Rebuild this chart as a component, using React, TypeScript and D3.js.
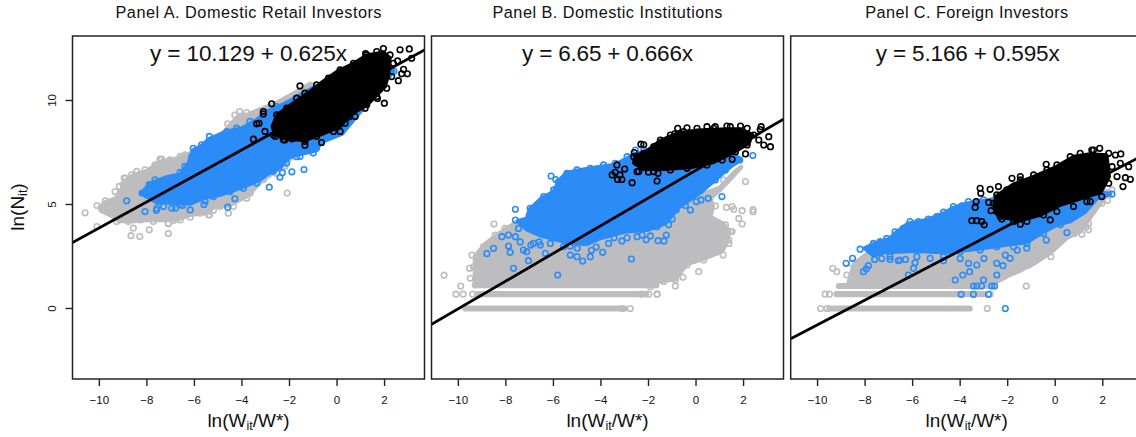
import React from "react";
import * as d3 from "d3";

type P = [number, number];

const xTicks = [-10, -8, -6, -4, -2, 0, 2];
const yTicks = [0, 5, 10];

const retailGrayOutline: P[] = [[-10.0,4.85],[-9.75,5.1],[-9.3,5.3],[-9.0,5.85],[-8.9,6.15],[-8.5,6.45],[-8.0,6.6],[-7.45,7.05],[-6.75,7.2],[-6.2,7.45],[-4.9,8.25],[-4.6,8.7],[-4.1,9.3],[-3.8,9.3],[-3.17,9.6],[-2.5,9.9],[-1.84,10.33],[-1.14,10.8],[-0.5,10.5],[-1.2,8.0],[-2.25,6.9],[-3.2,6.1],[-3.8,5.4],[-4.57,4.95],[-5.2,4.9],[-5.4,4.6],[-6.18,4.5],[-6.8,4.25],[-7.9,4.25],[-8.57,4.2],[-9.16,4.2],[-9.55,4.5],[-9.93,4.7]];
const retailGrayPoints: P[] = [[-10.6,4.6],[-10.1,4.95],[-10.1,3.94],[-7.1,3.6],[-7.9,3.78],[-8.3,3.46],[-8.67,3.5],[-8.57,3.86],[-2.1,5.55],[-4.57,4.58],[-5.2,4.72],[-3.8,5.3],[-3.65,5.55],[-2.25,6.83],[-7.45,7.18],[-7.3,7.05],[-8.9,6.27],[-9.0,5.95],[-9.75,5.18],[-4.6,8.88],[-4.1,9.47],[-3.8,9.42],[-4.3,9.3],[-6.75,4.3],[-7.1,4.1],[-6.9,4.22],[-5.4,4.5],[-9.34,5.62],[-9.16,5.87],[-8.96,6.27],[-8.64,6.43],[-8.43,6.59],[-8.08,6.67],[-7.66,6.91],[-7.38,7.18],[-7.03,7.15],[-6.6,7.31],[-6.4,7.39],[-9.27,4.18],[-8.78,4.18],[-8.29,4.26],[-7.73,4.18],[-7.1,4.07],[-6.6,4.26],[-6.18,4.39],[-5.76,4.58],[-5.37,4.5],[-4.92,4.9],[-4.36,4.9],[-3.94,5.62],[-3.1,6.19],[-2.54,6.5],[-2.19,6.83]];
const retailBlueOutline: P[] = [[-8.2,5.55],[-7.94,5.9],[-7.66,6.1],[-7.17,6.3],[-6.6,6.45],[-6.25,6.95],[-6.05,7.6],[-5.7,7.8],[-5.37,8.15],[-4.85,8.4],[-4.43,8.55],[-4.0,8.65],[-3.38,9.05],[-2.96,9.45],[-2.26,9.8],[-1,10.6],[2.37,11.4],[0.2,8.4],[-0.58,8.05],[-1.0,7.57],[-1.7,7.4],[-2.05,7.25],[-2.4,6.77],[-2.96,6.45],[-3.24,6.2],[-4.08,5.8],[-4.92,5.48],[-5.62,5.32],[-6.18,5.05],[-6.9,5.1],[-7.58,5.1]];
const retailBluePoints: P[] = [[-8.85,5.18],[-8.08,4.66],[-7.58,4.82],[-7.6,4.72],[-6.95,4.82],[-6.8,4.82],[-6.18,4.74],[-6.5,4.95],[-5.6,5.0],[-5.55,5.15],[-2.85,5.83],[-2.4,6.31],[-2.3,6.52],[-1.9,6.57],[-1.39,6.68],[-4.6,4.87],[-4.3,5.27],[-1.0,7.47],[-0.88,7.7],[-1.7,7.3],[-8.2,5.55],[-8.0,5.45],[-7.9,5.95],[-7.66,6.19],[-6.05,7.7],[-5.7,7.87],[-5.37,8.27],[2.4,11.4],[-6.6,6.54],[-6.4,6.83],[-6.11,7.31],[-5.9,7.63],[-5.2,8.1],[-4.64,8.5],[-4.22,8.67],[-3.66,9.0],[-3.1,9.39],[-2.54,9.71],[-7.3,4.9],[-6.6,4.98],[-5.9,5.38],[-5.2,5.38],[-4.5,5.62],[-3.94,5.78],[-3.38,6.03],[-2.68,6.59],[-2.12,6.99],[-1.56,7.31],[-0.86,7.71]];
const retailBlackOutline: P[] = [[-2.7,8.75],[-2.5,9.3],[-1.84,9.85],[-1.14,10.4],[-0.58,10.9],[0,11.37],[0.69,11.75],[1.25,12.15],[1.95,12.3],[2.2,12.03],[2.15,11.31],[2.0,10.67],[1.25,9.8],[0.55,9.33],[0.13,8.77],[-0.72,8.37],[-1.35,8.1],[-2.19,8.2],[-2.6,8.37]];
const retailBlackPoints: P[] = [[-3.52,8.14],[-3.03,8.51],[-3.38,8.88],[-3.28,8.9],[-3.1,9.47],[-3.1,9.35],[-2.75,9.84],[-1.56,10.7],[2.65,12.44],[3.04,12.48],[3.14,12.03],[2.96,11.28],[2.72,11.28],[2.58,10.95],[2.8,11.5],[2.55,11.9],[1.99,9.87],[0.13,8.51],[-0.65,7.98],[-1.35,7.85],[-1.9,8.15],[-2.2,8.1],[-2.6,8.27],[1.25,9.8],[0.5,9.2],[1.7,10.1],[1.2,12.25],[1.95,12.5],[-2.54,9.31],[-2.12,9.63],[-1.7,10.11],[-1.35,10.35],[-0.86,10.75],[-0.36,11.07],[0.13,11.47],[0.69,11.79],[1.25,12.19],[1.67,12.35],[2.23,12.19],[2.37,11.79],[2.3,11.15],[2.09,10.59],[1.67,10.19],[1.18,9.63],[0.76,9.23],[0.34,8.91],[-0.15,8.51],[-0.86,8.27],[-1.35,8.03],[-1.84,8.19],[-2.26,8.11],[-2.68,8.35]];

const institutionGrayOutline: P[] = [[-9.3,1.08],[-9.3,2.0],[-9.3,2.5],[-8.87,3.1],[-8.3,3.6],[-7.54,4.15],[-5,5],[-0.94,5.5],[0.04,5.4],[1.0,5.8],[1.66,6.6],[1.9,6.8],[1.5,6.3],[1,5.7],[0.6,5.3],[0.7,4.9],[0.6,4.4],[1.16,4.06],[1.4,3.7],[1.3,3.2],[1.1,2.75],[0.32,2.4],[-0.38,2.15],[-0.87,1.4],[-1.64,1.29],[-1.64,1.08]];
const institutionGrayPoints: P[] = [[-10.6,1.6],[-9.9,1.08],[-8.5,4.06],[0.11,1.77],[1.14,2.57],[1.38,3.13],[1.94,4.7],[2.4,4.65],[2.4,4.75],[1.16,6.18],[2.08,6.1],[0.81,4.93],[1.28,4.86],[1.59,4.77],[1.52,4.9],[1.94,4.06],[1.8,4.33],[1.45,3.7],[-0.87,1.08],[-1.64,0.69],[-0.38,2.09],[-0.55,1.5],[0.4,5.3],[0.6,4.9],[0.3,4.7],[-9.43,2.57],[-9.36,2.0],[-9.53,1.93],[-9.5,1.45],[-9.29,1.13],[-9.08,2.33],[-8.94,2.97],[-8.45,3.53],[-8.03,3.85],[-1.92,1.05],[-1.36,1.29],[-0.87,1.37],[-0.1,2.33],[0.32,2.33],[0.74,2.97],[1.14,3.13],[1.38,3.29],[1.52,3.7],[1.24,4.02],[0.88,3.85]];
const institutionBlueOutline: P[] = [[-7.5,4.2],[-7.12,4.3],[-7.0,4.75],[-6.48,5.3],[-5.99,5.6],[-5.78,6.1],[-5.46,6.5],[-4.87,6.65],[-4.03,6.8],[-3.4,6.9],[-2.76,7.3],[-2.06,7.6],[-1,8],[1,8],[1.87,7.14],[1.52,6.9],[0.8,6.2],[0.2,5.6],[-0.7,4.9],[-1.3,4.1],[-2,3.8],[-3,3.7],[-4,3.4],[-4.6,3.1],[-5.5,3.2],[-6.5,3.5],[-7.1,3.8]];
const institutionBluePoints: P[] = [[-8.17,3.45],[-7.89,3.53],[-7.89,3],[-7.82,2.7],[-8.52,2.89],[-8.8,2.64],[-7.68,1.93],[-7.6,4.77],[-7.6,4.25],[-7.47,3.85],[-7.26,2.81],[-7.05,2.3],[-7.12,2.73],[-6.84,3.13],[-6.55,3.05],[-6.34,2.65],[-6.13,3.13],[-6.1,6.37],[-5.9,6.2],[-5.82,1.61],[-5.57,2.97],[-5.29,2.57],[-5.01,2.49],[-4.77,2.28],[-4.45,2.49],[-3.93,2.7],[-3.68,3.13],[-3.12,3.25],[-2.72,2.38],[-2.48,3.45],[-2.27,3.53],[-1.92,3.49],[-1.6,3.26],[-1.25,3.53],[-1.15,4.02],[-1.64,3.93],[-0.83,4.74],[-0.59,5.06],[-0.24,4.73],[0.01,5.14],[0.21,5.22],[0.51,5.3],[1.09,5.38],[0.46,6.26],[0.81,6.18],[-0.03,5.7],[-0.31,5.41],[1.84,7.14],[2.39,7.35],[1.24,6.66],[-4.2,2.95],[-7.4,3.2],[-6.6,3.2],[-5.3,3],[-5,2.9],[-6.98,4.82],[-6.41,5.38],[-5.99,5.7],[-5.78,6.1],[-5.43,6.5],[-5.01,6.66],[-4.45,6.74],[-3.89,6.9],[-3.4,6.98],[-2.9,7.3],[-2.55,7.62],[-2.2,7.62],[-3.45,3.4],[-2.9,3.4],[-2.1,3.3],[-1.35,3.25],[-1.0,4.3],[-0.45,4.95],[-4.4,2.8],[-6.95,3.05],[-7.6,3.45]];
const institutionBlackOutline: P[] = [[-2.6,7.0],[-2.55,7.3],[-2.06,7.55],[-1.5,8.05],[-0.8,8.4],[0.04,8.55],[1.3,8.6],[1.87,8.6],[2.35,8.35],[2.2,7.94],[1.45,7.45],[0.74,7.05],[-0.24,6.8],[-1.36,6.72],[-2.2,6.72]];
const institutionBlackPoints: P[] = [[-3.33,6.9],[-3.53,6.42],[-3.2,6.42],[-3.4,6.55],[-3.12,6.2],[-3.3,6.2],[-2.69,6.05],[-1.64,6.13],[-2.32,7.9],[-2.2,7.87],[-0.77,8.66],[-0.38,8.69],[0.46,8.74],[0.81,8.74],[1.3,8.77],[1.87,8.77],[2.74,8.74],[2.7,8.6],[3.13,7.78],[2.85,7.86],[2.64,8.1],[3.06,8.26],[2.08,7.43],[1.52,7.17],[-2.41,6.58],[-2.0,6.55],[-1.6,6.5],[-2.6,7.5],[-0.9,8.4],[-3.0,6.7],[-2.62,7.3],[-2.2,7.46],[-1.78,7.78],[-1.5,8.1],[-1.08,8.34],[-0.52,8.5],[0.04,8.66],[0.74,8.66],[1.44,8.74],[2.15,8.66],[2.43,8.34],[2.15,7.86],[1.66,7.54],[1.1,7.14],[0.46,6.9],[-0.38,6.74],[-1.08,6.66],[-1.78,6.58],[-2.48,6.58]];

const foreignGrayOutline: P[] = [[-8.7,1.2],[-8.6,1.61],[-8.45,2.17],[-7.93,2.6],[-6,3.5],[-3,5],[0,6],[2.3,5.6],[1.9,5.06],[1.35,4.2],[1.05,3.7],[0.49,3.4],[-0.18,2.7],[-0.84,2.2],[-1.4,1.87],[-2.04,1.55],[-2.6,1.2]];
const foreignGrayPoints: P[] = [[-9.36,1.93],[-9.19,1.77],[-1.22,1.08],[-0.18,2.49],[1.12,3.57],[1.3,3.9],[1.4,4.1],[1.96,5.06],[2.2,5.2],[-0.6,2.5],[-1.5,1.9],[-0.9,3],[0.8,3.6],[2.39,5.7],[-8.77,1.61],[-8.56,2.17],[1.61,4.74],[1.26,4.1],[1.4,3.78],[0.63,3.61],[0.28,3.45],[-0.18,2.97],[-0.49,2.89],[-0.91,2.49],[-1.12,2.09],[-1.75,1.77],[-2.18,1.53]];
const foreignBlueOutline: P[] = [[-8.0,2.9],[-7.72,3.05],[-7.37,3.2],[-6.95,3.35],[-6.74,3.6],[-6.18,4.08],[-5.4,4.24],[-4.7,4.56],[-4.28,4.83],[-3.72,5.04],[-2.74,5.2],[-1,6],[2.3,5.5],[1.75,5.3],[1.26,4.66],[0.63,4.2],[0.07,4.03],[-0.49,3.7],[-1.19,3.2],[-2.04,3.07],[-3.16,2.9],[-4.56,2.7],[-5.96,2.77],[-7.23,2.7],[-7.65,2.56]];
const foreignBluePoints: P[] = [[-8.53,2.41],[-8.8,2.17],[-8.21,2.85],[-8.07,1.77],[-7.95,1.9],[-7.86,2.06],[-7.6,2.36],[-7.3,2.4],[-6.95,2.36],[-6.6,2.3],[-6.3,2.36],[-5.9,2.2],[-5.96,1.93],[-6.18,1.61],[-4.21,1.37],[-3.89,1.61],[-3.6,1.77],[-3.3,2.09],[-3.65,2.17],[-3.96,0.68],[-3.44,0.68],[-2.81,0.68],[-3.44,1.08],[-3.3,1.08],[-3.02,1.37],[-3.1,1.08],[-2.67,1.08],[-2.55,1.08],[-2.46,1.61],[-2.46,2.17],[-2.2,2.06],[-2.1,2.57],[-1.9,2.41],[-0.38,3.29],[0.49,3.65],[-2.1,0],[-4.7,2.3],[-4.0,2.4],[-3.0,2.4],[-1.6,2.8],[-1.2,2.9],[2.39,5.5],[-7.65,3.13],[-7.37,3.21],[-7.09,3.37],[-6.74,3.69],[-6.39,3.85],[-6.11,4.18],[-5.76,4.18],[-5.34,4.3],[-4.99,4.42],[-4.7,4.63],[-4.28,4.9],[-3.93,4.93],[-3.65,5.14],[-3.3,5.14],[-3.02,5.22],[-6.95,2.49],[-6.53,2.33],[-5.82,2.49],[-5.26,2.41],[-4.7,2.49],[-4,2.73],[-3.16,2.81],[-2.46,2.97],[-1.75,2.97],[-1.19,3.13],[-0.49,3.61],[0.21,4.02]];
const foreignBlackOutline: P[] = [[-2.55,5.06],[-2.45,5.4],[-1.75,5.95],[-0.91,6.32],[0.07,6.8],[0.77,7.28],[1.47,7.4],[2.15,7.35],[2.25,6.34],[1.9,5.6],[1.05,5.3],[0.21,5.0],[-0.63,4.52],[-1.47,4.25],[-2.18,4.4],[-2.5,4.6]];
const foreignBlackPoints: P[] = [[-3.51,4.22],[-3.3,4.22],[-3.09,4.18],[-2.99,4.02],[-3.33,5.14],[-3.37,4.86],[-3.16,5.78],[-3.13,5.54],[-2.74,5.73],[-2.39,5.86],[-1.82,6.26],[-1.47,6.34],[-0.38,6.93],[1.87,7.7],[1.54,7.62],[2.76,7.43],[2.53,7.38],[2.74,6.98],[3.09,6.82],[2.95,6.29],[3.16,6.21],[2.6,6.34],[2.85,5.86],[-0.21,4.26],[-1.47,4.05],[1.33,5.14],[-2.25,4.3],[-2.7,4.7],[-2.8,5.1],[-2.6,5.06],[-2.46,5.46],[-2.04,5.7],[-1.47,6.18],[-0.91,6.42],[-0.35,6.66],[0.07,6.9],[0.63,7.3],[1.05,7.46],[1.61,7.62],[2.25,7.46],[2.39,6.82],[2.25,6.02],[1.96,5.38],[1.47,5.14],[0.77,4.9],[0.07,4.66],[-0.49,4.5],[-1.19,4.18],[-1.75,4.18],[-2.32,4.42]];

const institutionRows: [number, number, number][] = [[0, -9.7, -3.0], [0.69, -9.2, -2.1]];
const institutionRowPoints: P[] = [[-2.77,0],[-3.1,0],[-10.1,0.69],[-9.8,0.69],[-9.4,0.69],[-1.99,0.69],[-2.3,0.69],[-1.64,0.69]];
const foreignRows: [number, number, number][] = [[0, -9.5, -3.6], [0.69, -9.2, -3.0], [1.08, -9.1, -2.6]];
const foreignRowPoints: P[] = [[-9.87,0],[-9.6,0],[-2.86,0],[-9.68,0.69],[-9.5,0.69],[-2.74,0.69]];

const panels = [
  { title: "Panel A. Domestic Retail Investors", titleW: 266, eq: "y = 10.129 + 0.625x", eqW: 197, a: 10.129, b: 0.625, left: 72.5, gray: retailGrayOutline, grayPts: retailGrayPoints, blue: retailBlueOutline, bluePts: retailBluePoints, black: retailBlackOutline, blackPts: retailBlackPoints, rows: [] as [number, number, number][], rowPts: [] as P[] },
  { title: "Panel B. Domestic Institutions", titleW: 230, eq: "y = 6.65 + 0.666x", eqW: 171, a: 6.65, b: 0.666, left: 431.5, gray: institutionGrayOutline, grayPts: institutionGrayPoints, blue: institutionBlueOutline, bluePts: institutionBluePoints, black: institutionBlackOutline, blackPts: institutionBlackPoints, rows: institutionRows, rowPts: institutionRowPoints },
  { title: "Panel C. Foreign Investors", titleW: 203, eq: "y = 5.166 + 0.595x", eqW: 184, a: 5.166, b: 0.595, left: 790.7, gray: foreignGrayOutline, grayPts: foreignGrayPoints, blue: foreignBlueOutline, bluePts: foreignBluePoints, black: foreignBlackOutline, blackPts: foreignBlackPoints, rows: foreignRows, rowPts: foreignRowPoints },
];

const GRAY = "#bdbdbf";
const BLUE = "#2b8cf8";
const BLACK = "#000";
const FONT = "'Liberation Sans', Arial, sans-serif";
const W = 352, TOP = 36, BOTTOM = 379;
const R = 2.8, SW = 1.6;
const xDomain: [number, number] = [-11.13, 3.68];
const yDomain: [number, number] = [13.1, -3.39];

function Cloud({ outline, pts, color, x, y }: { outline: P[]; pts: P[]; color: string; x: any; y: any }) {
  const line = d3.line<P>().x((d) => x(d[0])).y((d) => y(d[1])).curve(d3.curveLinearClosed);
  return (
    <g>
      <path d={line(outline) || ""} fill={color} stroke={color} strokeWidth={4.5} strokeLinejoin="round" />
      {pts.map((d, i) => (
        <circle key={i} cx={x(d[0])} cy={y(d[1])} r={R} fill="none" stroke={color} strokeWidth={SW} />
      ))}
    </g>
  );
}

function Panel({ p, index }: { p: (typeof panels)[number]; index: number }) {
  const x = d3.scaleLinear().domain(xDomain).range([p.left, p.left + W]);
  const y = d3.scaleLinear().domain(yDomain).range([TOP, BOTTOM]);
  const cx = p.left + W / 2;
  const clip = `clip-${index}`;
  return (
    <g fontFamily={FONT} fill="#111">
      <clipPath id={clip}><rect x={p.left} y={TOP} width={W} height={BOTTOM - TOP} /></clipPath>
      <text x={cx} y={18} textAnchor="middle" fontSize={16.3} textLength={p.titleW} lengthAdjust="spacing">{p.title}</text>
      <g clipPath={`url(#${clip})`}>
        {p.rows.map((r, i) => (
          <line key={i} x1={x(r[1])} x2={x(r[2])} y1={y(r[0])} y2={y(r[0])} stroke={GRAY} strokeWidth={6.2} strokeLinecap="round" />
        ))}
        {p.rowPts.map((d, i) => (
          <circle key={i} cx={x(d[0])} cy={y(d[1])} r={R} fill="none" stroke={GRAY} strokeWidth={SW} />
        ))}
        <Cloud outline={p.gray} pts={p.grayPts} color={GRAY} x={x} y={y} />
        <Cloud outline={p.blue} pts={p.bluePts} color={BLUE} x={x} y={y} />
        <line x1={x(xDomain[0])} x2={x(xDomain[1])} y1={y(p.a + p.b * xDomain[0])} y2={y(p.a + p.b * xDomain[1])} stroke="#000" strokeWidth={2.8} />
        <Cloud outline={p.black} pts={p.blackPts} color={BLACK} x={x} y={y} />
      </g>
      <rect x={p.left} y={TOP} width={W} height={BOTTOM - TOP} fill="none" stroke="#222" strokeWidth={1.5} />
      <text x={cx + (index === 2 ? 1 : 0)} y={61} textAnchor="middle" fontSize={22.5} textLength={p.eqW} lengthAdjust="spacing">{p.eq}</text>
      {xTicks.map((t) => (
        <g key={t}>
          <line x1={x(t)} x2={x(t)} y1={BOTTOM} y2={BOTTOM + 7} stroke="#222" strokeWidth={1.4} />
          <text x={x(t)} y={404} textAnchor="middle" fontSize={11.5}>{t < 0 ? `\u2212${-t}` : t}</text>
        </g>
      ))}
      <text x={cx} y={427} textAnchor="middle" fontSize={19}>
        ln(W<tspan fontSize={12.5} dy={3}>it</tspan><tspan dy={-3}>/W*)</tspan>
      </text>
      {index === 0 &&
        yTicks.map((t) => (
          <g key={t}>
            <line x1={p.left - 7} x2={p.left} y1={y(t)} y2={y(t)} stroke="#222" strokeWidth={1.4} />
            <text transform={`translate(56,${y(t)}) rotate(-90)`} textAnchor="middle" fontSize={11.5}>{t}</text>
          </g>
        ))}
      {index === 0 && (
        <text transform="translate(24,207) rotate(-90)" textAnchor="middle" fontSize={19}>
          ln(N<tspan fontSize={12.5} dy={3}>it</tspan><tspan dy={-3}>)</tspan>
        </text>
      )}
    </g>
  );
}

export default function App() {
  return (
    <svg width={1136} height={437} style={{ position: "absolute", left: 0, top: 0, background: "#fff" }}>
      {panels.map((p, i) => <Panel key={i} p={p} index={i} />)}
    </svg>
  );
}
